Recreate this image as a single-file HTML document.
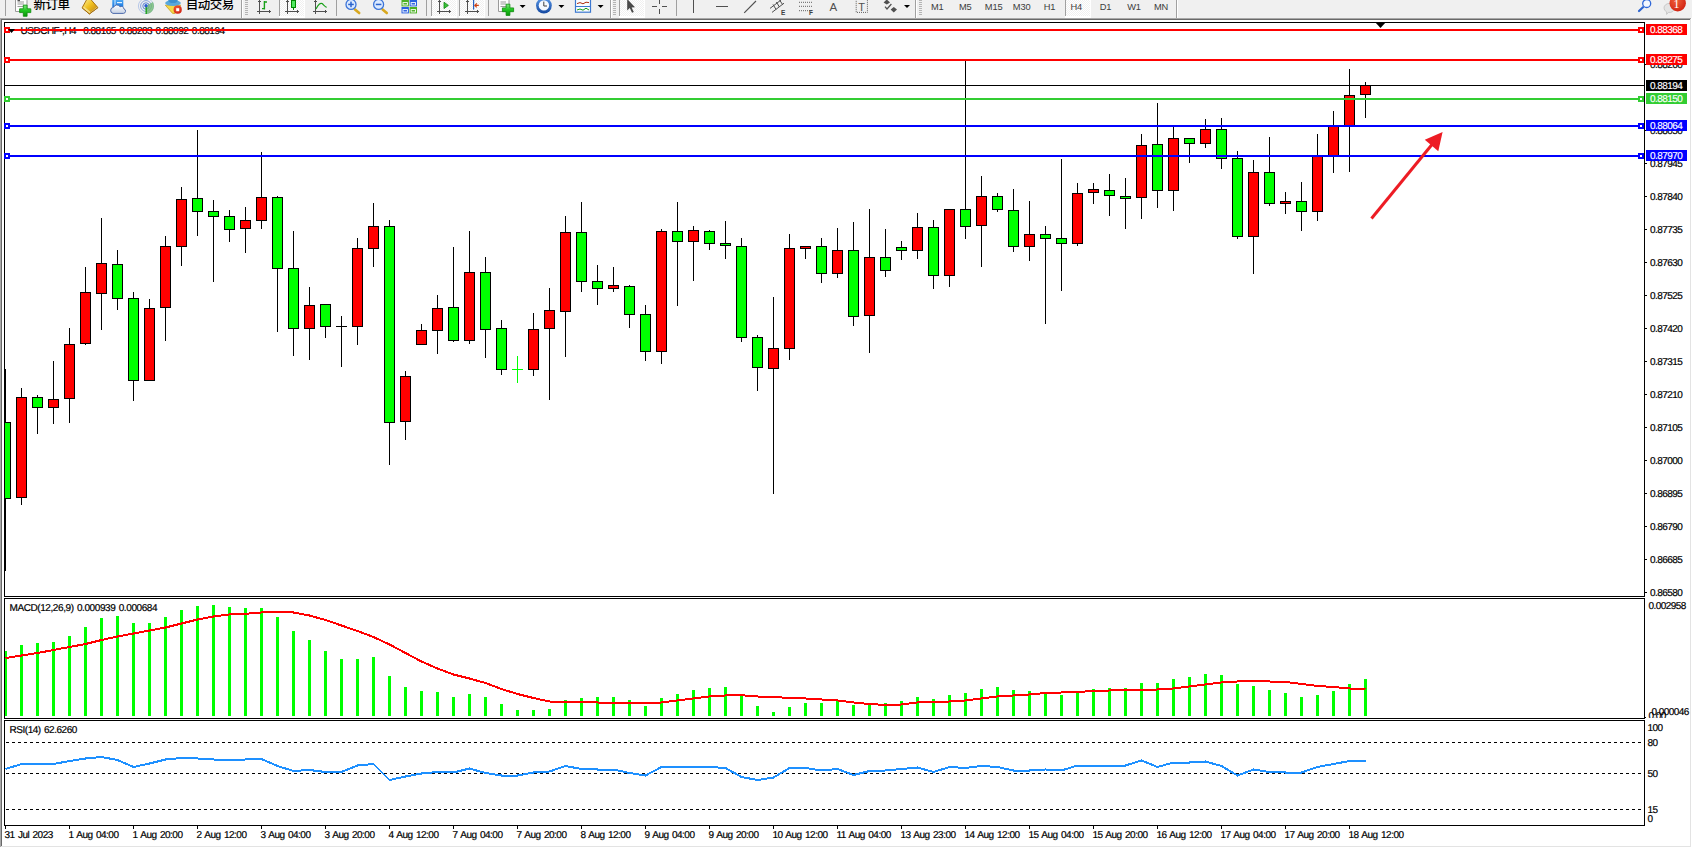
<!DOCTYPE html>
<html><head><meta charset="utf-8"><title>USDCHF H4</title>
<style>
html,body{margin:0;padding:0;background:#fff}
body{width:1692px;height:848px;overflow:hidden;position:relative;font-family:"Liberation Sans","Noto Sans CJK SC",sans-serif}
#tb{position:absolute;left:0;top:0;width:1692px;height:18px;background:#f0f0f0;overflow:hidden}
</style></head><body>
<div id="tb"><svg width="1692" height="18" viewBox="0 0 1692 18" style="position:absolute;left:0;top:0">
<defs>
<linearGradient id="gGold" x1="0" y1="0" x2="1" y2="1"><stop offset="0" stop-color="#fff3a0"/><stop offset="0.45" stop-color="#f0c020"/><stop offset="1" stop-color="#b87810"/></linearGradient>
<linearGradient id="gGreen" x1="0" y1="0" x2="0" y2="1"><stop offset="0" stop-color="#7be87b"/><stop offset="0.5" stop-color="#1fc41f"/><stop offset="1" stop-color="#0a960a"/></linearGradient>
<linearGradient id="gBlue" x1="0" y1="0" x2="0" y2="1"><stop offset="0" stop-color="#5ab4f8"/><stop offset="1" stop-color="#1a78e0"/></linearGradient>
<linearGradient id="gCloud" x1="0" y1="0" x2="0" y2="1"><stop offset="0" stop-color="#ffffff"/><stop offset="1" stop-color="#c4d0e4"/></linearGradient>
<radialGradient id="gRed" cx="0.4" cy="0.35" r="0.7"><stop offset="0" stop-color="#f0603a"/><stop offset="1" stop-color="#d02010"/></radialGradient>
<linearGradient id="gBlue2" x1="0" y1="0" x2="0" y2="1"><stop offset="0" stop-color="#5a98e8"/><stop offset="1" stop-color="#1448a0"/></linearGradient>
<radialGradient id="gClock" cx="0.5" cy="0.4" r="0.6"><stop offset="0" stop-color="#ffffff"/><stop offset="0.62" stop-color="#e8f0fa"/><stop offset="0.7" stop-color="#3a80d8"/><stop offset="1" stop-color="#1450a8"/></radialGradient>
<pattern id="sel" width="2" height="2" patternUnits="userSpaceOnUse"><rect width="2" height="2" fill="#ffffff"/><rect width="1" height="1" fill="#f0f0f0"/><rect x="1" y="1" width="1" height="1" fill="#f0f0f0"/></pattern>
</defs>
<rect x="5" y="0" width="1" height="16" fill="#a0a0a0" shape-rendering="crispEdges"/>
<path d="M15.5,-2.5 h8.5 l3,3 v11 h-11.5 z" fill="#fdfdfd" stroke="#9a9a9a" stroke-width="1"/>
<rect x="17.5" y="1.5" width="6.5" height="1" fill="#9c9c9c"/>
<rect x="17.5" y="3.5" width="6.5" height="1" fill="#9c9c9c"/>
<rect x="17.5" y="6" width="6.5" height="1" fill="#9c9c9c"/>
<rect x="17.5" y="0" width="2.5" height="1.2" fill="#555"/>
<path d="M23.3,5.1 h3.8 v3.7 h3.7 v3.8 h-3.7 v3.7 h-3.8 v-3.7 h-3.7 v-3.8 h3.7 z" fill="url(#gGreen)" stroke="#0b8a0b" stroke-width="0.8"/>
<polygon points="87,-1 90.8,-0.6 97.9,7.6 89.4,13.9 82.1,7.8" fill="url(#gGold)" stroke="#a06808" stroke-width="0.9" stroke-linejoin="round"/>
<polygon points="82.6,8 84,6.6 91,12.2 89.4,13.4" fill="#f4dc80"/>
<polygon points="90.2,13.2 91.2,11.8 97,7 97.6,7.8" fill="#e0d098"/>
<polyline points="82.1,7.8 89.4,13.9 97.9,7.6" fill="none" stroke="#a06808" stroke-width="0.9"/>
<rect x="112.3" y="-2" width="11" height="9" fill="url(#gBlue)"/>
<rect x="114.5" y="-2" width="1" height="8" fill="#d8ecff"/><rect x="117" y="2" width="5" height="1.2" fill="#e8f4ff"/>
<path d="M113,13.4 A3.1,3.1 0 0 1 113.6,7.3 A3.5,3.5 0 0 1 120,6.8 A2.6,2.6 0 0 1 123.9,8.9 A2.3,2.3 0 0 1 123.4,13.4 Z" fill="url(#gCloud)" stroke="#4f6cac" stroke-width="1"/>
<circle cx="146" cy="6" r="7.6" fill="none" stroke="#b8c8e8" stroke-width="1"/>
<circle cx="146" cy="6" r="5.4" fill="none" stroke="#88a4dc" stroke-width="1"/>
<circle cx="146" cy="6" r="3.2" fill="none" stroke="#5c84d4" stroke-width="1"/>
<path d="M146,6 L146,14 A8,8 0 0 0 152.9,2 z" fill="#6cb86c" opacity="0.75"/>
<rect x="145.5" y="6" width="1.4" height="8" fill="#1fa01f"/>
<circle cx="146" cy="5.8" r="1.7" fill="#2a5cd0"/>
<path d="M165.3,5.2 L180.6,5.2 L175,13.4 L172.6,13.4 z" fill="#f4d848" stroke="#c8a020" stroke-width="0.8"/>
<ellipse cx="173" cy="3" rx="7.8" ry="3" fill="#58a8dc"/><ellipse cx="173" cy="0.2" rx="4.6" ry="2.8" fill="#3c90d0"/>
<circle cx="177.7" cy="9.7" r="4.1" fill="url(#gRed)"/><rect x="176.2" y="8.2" width="3" height="3" fill="#fff"/>
<rect x="241" y="0" width="1" height="18" fill="#a0a0a0" shape-rendering="crispEdges"/>
<rect x="242" y="0" width="1" height="18" fill="#ffffff" shape-rendering="crispEdges"/>
<rect x="245" y="0" width="3" height="1" fill="#b4b4b4" shape-rendering="crispEdges"/>
<rect x="245" y="2" width="3" height="1" fill="#b4b4b4" shape-rendering="crispEdges"/>
<rect x="245" y="4" width="3" height="1" fill="#b4b4b4" shape-rendering="crispEdges"/>
<rect x="245" y="6" width="3" height="1" fill="#b4b4b4" shape-rendering="crispEdges"/>
<rect x="245" y="8" width="3" height="1" fill="#b4b4b4" shape-rendering="crispEdges"/>
<rect x="245" y="10" width="3" height="1" fill="#b4b4b4" shape-rendering="crispEdges"/>
<rect x="245" y="12" width="3" height="1" fill="#b4b4b4" shape-rendering="crispEdges"/>
<rect x="245" y="14" width="3" height="1" fill="#b4b4b4" shape-rendering="crispEdges"/>
<g fill="#505050" shape-rendering="crispEdges"><rect x="259" y="0" width="1" height="14"/><rect x="258" y="1" width="3" height="1"/><rect x="257" y="11" width="14" height="1"/><rect x="269" y="10" width="1" height="3"/></g>
<path d="M264.4,1 V9.6 M264.4,2 h2.6 M264.4,8.6 h-2.4" stroke="#18a018" stroke-width="1.4" fill="none"/>
<g shape-rendering="crispEdges"><rect x="280" y="0" width="24" height="16" fill="url(#sel)"/>
<rect x="279" y="0" width="1" height="16" fill="#a0a0a0"/>
<rect x="304" y="0" width="1" height="18" fill="#ffffff"/>
<rect x="279" y="16" width="26" height="2" fill="#ffffff"/></g>
<g fill="#505050" shape-rendering="crispEdges"><rect x="287" y="0" width="1" height="14"/><rect x="286" y="1" width="3" height="1"/><rect x="285" y="11" width="14" height="1"/><rect x="297" y="10" width="1" height="3"/></g>
<g shape-rendering="crispEdges"><rect x="293" y="0" width="1" height="10" fill="#008800"/><rect x="291" y="0" width="5" height="8" fill="#008800"/><rect x="292" y="1" width="3" height="6" fill="#50e860"/></g>
<g fill="#505050" shape-rendering="crispEdges"><rect x="315" y="0" width="1" height="14"/><rect x="314" y="1" width="3" height="1"/><rect x="313" y="11" width="14" height="1"/><rect x="325" y="10" width="1" height="3"/></g>
<path d="M316,9 C318.6,4 320.6,2.6 322,3.6 S325,6.8 326.6,7.4" stroke="#18a018" stroke-width="1.2" fill="none"/>
<rect x="336" y="0" width="1" height="16" fill="#a0a0a0" shape-rendering="crispEdges"/>
<line x1="355" y1="9.4" x2="359.2" y2="13" stroke="#d8a820" stroke-width="2.6" stroke-linecap="round"/>
<circle cx="351" cy="4.4" r="5" fill="#dceaff" stroke="#3c74d8" stroke-width="1.3"/>
<rect x="348.2" y="3.7" width="5.6" height="1.5" fill="#2c64cc"/>
<rect x="350.25" y="1.6" width="1.5" height="5.6" fill="#2c64cc"/>
<line x1="382.6" y1="9.4" x2="386.8" y2="13" stroke="#d8a820" stroke-width="2.6" stroke-linecap="round"/>
<circle cx="378.6" cy="4.4" r="5" fill="#dceaff" stroke="#3c74d8" stroke-width="1.3"/>
<rect x="375.8" y="3.7" width="5.6" height="1.5" fill="#2c64cc"/>
<rect x="401.5" y="0" width="7.4" height="6.4" fill="#4cb024"/>
<rect x="403" y="2.6" width="4.4" height="2.4" fill="none" stroke="#fff" stroke-width="0.9"/>
<rect x="409.6" y="0" width="7.4" height="6.4" fill="#2860e0"/>
<rect x="411.1" y="2.6" width="4.4" height="2.4" fill="none" stroke="#fff" stroke-width="0.9"/>
<rect x="401.5" y="7" width="7.4" height="6.4" fill="#2860e0"/>
<rect x="403" y="9.6" width="4.4" height="2.4" fill="none" stroke="#fff" stroke-width="0.9"/>
<rect x="409.6" y="7" width="7.4" height="6.4" fill="#4cb024"/>
<rect x="411.1" y="9.6" width="4.4" height="2.4" fill="none" stroke="#fff" stroke-width="0.9"/>
<rect x="426" y="0" width="1" height="16" fill="#a0a0a0" shape-rendering="crispEdges"/>
<g shape-rendering="crispEdges"><rect x="432" y="0" width="24" height="16" fill="url(#sel)"/>
<rect x="431" y="0" width="1" height="16" fill="#a0a0a0"/>
<rect x="456" y="0" width="1" height="18" fill="#ffffff"/>
<rect x="431" y="16" width="26" height="2" fill="#ffffff"/></g>
<g fill="#505050" shape-rendering="crispEdges"><rect x="439" y="0" width="1" height="14"/><rect x="438" y="1" width="3" height="1"/><rect x="437" y="11" width="14" height="1"/><rect x="449" y="10" width="1" height="3"/></g>
<polygon points="444,2.2 448.4,5.4 444,8.6" fill="#38c038" stroke="#108810" stroke-width="0.8"/>
<g shape-rendering="crispEdges"><rect x="460" y="0" width="24" height="16" fill="url(#sel)"/>
<rect x="459" y="0" width="1" height="16" fill="#a0a0a0"/>
<rect x="484" y="0" width="1" height="18" fill="#ffffff"/>
<rect x="459" y="16" width="26" height="2" fill="#ffffff"/></g>
<g fill="#505050" shape-rendering="crispEdges"><rect x="467" y="0" width="1" height="14"/><rect x="466" y="1" width="3" height="1"/><rect x="465" y="11" width="14" height="1"/><rect x="477" y="10" width="1" height="3"/></g>
<rect x="473" y="0" width="1.2" height="9.6" fill="#2860c0"/><path d="M478.8,5.4 H475 M476.8,3.4 L474.8,5.4 L476.8,7.4" stroke="#d04010" stroke-width="1.1" fill="none"/>
<rect x="488" y="0" width="1" height="16" fill="#a0a0a0" shape-rendering="crispEdges"/>
<path d="M498.5,-2.5 h7.5 l3,3 v11 h-10.5 z" fill="#fdfdfd" stroke="#9a9a9a" stroke-width="1"/>
<rect x="500.5" y="1.5" width="5.5" height="1" fill="#9c9c9c"/>
<rect x="500.5" y="3.5" width="5.5" height="1" fill="#9c9c9c"/>
<rect x="500.5" y="6" width="5.5" height="1" fill="#9c9c9c"/>
<path d="M506.1,4.2 h3.8 v3.7 h3.7 v3.8 h-3.7 v3.7 h-3.8 v-3.7 h-3.7 v-3.8 h3.7 z" fill="url(#gGreen)" stroke="#0b8a0b" stroke-width="0.8"/>
<polygon points="519.6,5 525.6,5 522.6,8" fill="#000"/>
<circle cx="543.9" cy="5.6" r="7.9" fill="url(#gBlue2)"/><circle cx="543.9" cy="5.4" r="5.2" fill="#f4f8ff"/>
<path d="M543.8,1.6 V6 H547" stroke="#404040" stroke-width="1" fill="none"/>
<polygon points="558.4,5 564.4,5 561.4,8" fill="#000"/>
<rect x="575.5" y="-2" width="15" height="14.2" fill="#fafcff" stroke="#3c78d0" stroke-width="1.2"/>
<rect x="575.5" y="6" width="15" height="1" fill="#3c78d0"/>
<polyline points="577,3.6 580,2.6 583,3.8 586,2.2 589,2.6" stroke="#b03010" stroke-width="1" fill="none"/>
<polyline points="577,10 580,9 583,10.2 586,8.2 589,10" stroke="#18a018" stroke-width="1" fill="none"/>
<polygon points="597.6,5 603.6,5 600.6,8" fill="#000"/>
<rect x="609.5" y="0" width="1" height="18" fill="#a0a0a0" shape-rendering="crispEdges"/>
<rect x="610.5" y="0" width="1" height="18" fill="#ffffff" shape-rendering="crispEdges"/>
<rect x="613" y="0" width="3" height="1" fill="#b4b4b4" shape-rendering="crispEdges"/>
<rect x="613" y="2" width="3" height="1" fill="#b4b4b4" shape-rendering="crispEdges"/>
<rect x="613" y="4" width="3" height="1" fill="#b4b4b4" shape-rendering="crispEdges"/>
<rect x="613" y="6" width="3" height="1" fill="#b4b4b4" shape-rendering="crispEdges"/>
<rect x="613" y="8" width="3" height="1" fill="#b4b4b4" shape-rendering="crispEdges"/>
<rect x="613" y="10" width="3" height="1" fill="#b4b4b4" shape-rendering="crispEdges"/>
<rect x="613" y="12" width="3" height="1" fill="#b4b4b4" shape-rendering="crispEdges"/>
<rect x="613" y="14" width="3" height="1" fill="#b4b4b4" shape-rendering="crispEdges"/>
<g shape-rendering="crispEdges"><rect x="620" y="0" width="24" height="16" fill="url(#sel)"/>
<rect x="619" y="0" width="1" height="16" fill="#a0a0a0"/>
<rect x="644" y="0" width="1" height="18" fill="#ffffff"/>
<rect x="619" y="16" width="26" height="2" fill="#ffffff"/></g>
<polygon points="627.2,-1 627.2,10.4 629.8,8 632,12.8 633.8,12 631.6,7.4 635,7.2" fill="#4a4a4a"/>
<path d="M659.5,0 V4 M659.5,9 V14 M652,6.5 H657 M662,6.5 H667" stroke="#505050" stroke-width="1" fill="none" shape-rendering="crispEdges"/>
<rect x="676" y="0" width="1" height="16" fill="#a0a0a0" shape-rendering="crispEdges"/>
<rect x="693" y="0" width="1" height="13" fill="#505050" shape-rendering="crispEdges"/>
<rect x="716" y="6" width="12" height="1" fill="#505050" shape-rendering="crispEdges"/>
<line x1="744.2" y1="12.9" x2="756" y2="1" stroke="#505050" stroke-width="1.1"/>
<g stroke="#505050" stroke-width="1" fill="none"><path d="M770,8.4 L781,0 M772,12.4 L784,3.2 M773,4.4 l3,5 M776.4,2 l3,5 M779.6,0 l3,4.6"/></g>
<text x="781" y="15" font-family="Liberation Sans, sans-serif" font-size="6.5" font-weight="bold" fill="#404040">E</text>
<line x1="799" y1="2.3" x2="812" y2="2.3" stroke="#606060" stroke-width="1" stroke-dasharray="1 1"/>
<line x1="799" y1="6.3" x2="812" y2="6.3" stroke="#606060" stroke-width="1" stroke-dasharray="1 1"/>
<line x1="799" y1="10.7" x2="812" y2="10.7" stroke="#606060" stroke-width="1" stroke-dasharray="1 1"/>
<text x="809" y="15" font-family="Liberation Sans, sans-serif" font-size="6.5" font-weight="bold" fill="#404040">F</text>
<text x="829.4" y="11" font-family="Liberation Sans, sans-serif" font-size="11.5" fill="#505050">A</text>
<rect x="856.2" y="-1" width="11.2" height="13.4" fill="none" stroke="#606060" stroke-width="1" stroke-dasharray="1 1"/>
<text x="858.2" y="10.6" font-family="Liberation Sans, sans-serif" font-size="11" fill="#505050">T</text>
<polygon points="883.6,2.6 886.8,-0.6 890,2.6 886.8,4.6" fill="#505050"/><polygon points="890.6,9.6 893.8,7 897,9.6 893.8,12.6" fill="#505050"/><path d="M885,6.6 l2,2.4 l4.4,-5" stroke="#505050" stroke-width="1.2" fill="none"/>
<polygon points="904,5 910,5 907,8" fill="#000"/>
<rect x="915" y="0" width="1" height="18" fill="#a0a0a0" shape-rendering="crispEdges"/>
<rect x="916" y="0" width="1" height="18" fill="#ffffff" shape-rendering="crispEdges"/>
<rect x="919" y="0" width="3" height="1" fill="#b4b4b4" shape-rendering="crispEdges"/>
<rect x="919" y="2" width="3" height="1" fill="#b4b4b4" shape-rendering="crispEdges"/>
<rect x="919" y="4" width="3" height="1" fill="#b4b4b4" shape-rendering="crispEdges"/>
<rect x="919" y="6" width="3" height="1" fill="#b4b4b4" shape-rendering="crispEdges"/>
<rect x="919" y="8" width="3" height="1" fill="#b4b4b4" shape-rendering="crispEdges"/>
<rect x="919" y="10" width="3" height="1" fill="#b4b4b4" shape-rendering="crispEdges"/>
<rect x="919" y="12" width="3" height="1" fill="#b4b4b4" shape-rendering="crispEdges"/>
<rect x="919" y="14" width="3" height="1" fill="#b4b4b4" shape-rendering="crispEdges"/>
<g shape-rendering="crispEdges"><rect x="1066" y="0" width="24" height="16" fill="url(#sel)"/>
<rect x="1065" y="0" width="1" height="16" fill="#a0a0a0"/>
<rect x="1090" y="0" width="1" height="18" fill="#ffffff"/>
<rect x="1065" y="16" width="26" height="2" fill="#ffffff"/></g>
<text x="931" y="9.8" font-family="Liberation Sans, sans-serif" font-size="9.3" letter-spacing="-0.15" fill="#3c3c3c">M1</text>
<text x="959" y="9.8" font-family="Liberation Sans, sans-serif" font-size="9.3" letter-spacing="-0.15" fill="#3c3c3c">M5</text>
<text x="984.8" y="9.8" font-family="Liberation Sans, sans-serif" font-size="9.3" letter-spacing="-0.15" fill="#3c3c3c">M15</text>
<text x="1012.8" y="9.8" font-family="Liberation Sans, sans-serif" font-size="9.3" letter-spacing="-0.15" fill="#3c3c3c">M30</text>
<text x="1043.7" y="9.8" font-family="Liberation Sans, sans-serif" font-size="9.3" letter-spacing="-0.15" fill="#3c3c3c">H1</text>
<text x="1070.5" y="9.8" font-family="Liberation Sans, sans-serif" font-size="9.3" letter-spacing="-0.15" fill="#3c3c3c">H4</text>
<text x="1099.7" y="9.8" font-family="Liberation Sans, sans-serif" font-size="9.3" letter-spacing="-0.15" fill="#3c3c3c">D1</text>
<text x="1127.2" y="9.8" font-family="Liberation Sans, sans-serif" font-size="9.3" letter-spacing="-0.15" fill="#3c3c3c">W1</text>
<text x="1154" y="9.8" font-family="Liberation Sans, sans-serif" font-size="9.3" letter-spacing="-0.15" fill="#3c3c3c">MN</text>
<rect x="1176" y="0" width="1" height="18" fill="#a0a0a0" shape-rendering="crispEdges"/>
<rect x="1177" y="0" width="1" height="18" fill="#ffffff" shape-rendering="crispEdges"/>
<line x1="1643" y1="7.2" x2="1639" y2="11" stroke="#2c64d0" stroke-width="2.2" stroke-linecap="round"/><circle cx="1646.7" cy="3.5" r="4" fill="#f4f8ff" stroke="#3068d8" stroke-width="1.3"/>
<path d="M1664,8 a5.4,4.6 0 0 1 10.8,0 a5.4,4.6 0 0 1 -6.4,4.4 l-1.8,2 l0,-2.6 a5,4.4 0 0 1 -2.6,-3.8 z" fill="#e4e4e4" stroke="#c0c0c0" stroke-width="0.8"/>
<circle cx="1677.7" cy="3.3" r="8.2" fill="url(#gRed)"/>
<text x="1673.6" y="8" font-family="Liberation Serif, serif" font-size="12" fill="#fff">1</text>
</svg>
<div style="position:absolute;left:33.4px;top:-3.6px;font-size:12.5px;font-weight:500;line-height:18px;color:#000;white-space:nowrap;letter-spacing:-0.5px">新订单</div>
<div style="position:absolute;left:185.8px;top:-3.6px;font-size:12.5px;font-weight:500;line-height:18px;color:#000;white-space:nowrap;letter-spacing:-0.5px">自动交易</div></div>
<svg id="chart" width="1692" height="848" viewBox="0 0 1692 848" style="position:absolute;left:0;top:0" shape-rendering="crispEdges">
<defs><clipPath id="cm"><rect x="5" y="23" width="1639" height="573"/></clipPath><clipPath id="cl"><rect x="5" y="599" width="1639" height="226"/></clipPath><clipPath id="cz"><rect x="1645" y="700" width="47" height="18"/></clipPath></defs>
<rect x="0" y="18" width="1692" height="1" fill="#a8a8a8"/>
<rect x="1" y="19" width="1690" height="1" fill="#696969"/>
<rect x="0" y="18" width="1" height="829" fill="#a8a8a8"/>
<rect x="1" y="19" width="1" height="827" fill="#696969"/>
<rect x="1690" y="19" width="1" height="828" fill="#e3e3e3"/>
<rect x="1" y="846" width="1690" height="1" fill="#e3e3e3"/>
<rect x="1691" y="18" width="1" height="830" fill="#ffffff"/>
<rect x="0" y="847" width="1692" height="1" fill="#ffffff"/>
<rect x="4" y="22" width="1641" height="1" fill="#000"/>
<rect x="4" y="596" width="1641" height="1" fill="#000"/>
<rect x="4" y="22" width="1" height="575" fill="#000"/>
<rect x="1644" y="22" width="1" height="575" fill="#000"/>
<rect x="4" y="598" width="1641" height="1" fill="#000"/>
<rect x="4" y="718" width="1641" height="1" fill="#000"/>
<rect x="4" y="598" width="1" height="121" fill="#000"/>
<rect x="1644" y="598" width="1" height="121" fill="#000"/>
<rect x="4" y="720" width="1641" height="1" fill="#000"/>
<rect x="4" y="825" width="1641" height="1" fill="#000"/>
<rect x="4" y="720" width="1" height="106" fill="#000"/>
<rect x="1644" y="720" width="1" height="106" fill="#000"/>
<text x="20.5" y="34" font-family="Liberation Sans, sans-serif" text-rendering="geometricPrecision" stroke="#000" stroke-width="0.2" font-size="10" letter-spacing="-0.56" fill="#000" textLength="204" lengthAdjust="spacing" word-spacing="1.2" xml:space="preserve">USDCHF-,H4  0.88165 0.88203 0.88092 0.88194</text>
<g clip-path="url(#cm)">
<rect x="5" y="369" width="1" height="202" fill="#000"/>
<rect x="0" y="422" width="11" height="77" fill="#000"/>
<rect x="1" y="423" width="9" height="75" fill="#00ff00"/>
<rect x="21" y="388" width="1" height="117" fill="#000"/>
<rect x="16" y="397" width="11" height="101" fill="#000"/>
<rect x="17" y="398" width="9" height="99" fill="#ff0000"/>
<rect x="37" y="395" width="1" height="39" fill="#000"/>
<rect x="32" y="397" width="11" height="11" fill="#000"/>
<rect x="33" y="398" width="9" height="9" fill="#00ff00"/>
<rect x="53" y="361" width="1" height="63" fill="#000"/>
<rect x="48" y="399" width="11" height="9" fill="#000"/>
<rect x="49" y="400" width="9" height="7" fill="#ff0000"/>
<rect x="69" y="328" width="1" height="95" fill="#000"/>
<rect x="64" y="344" width="11" height="55" fill="#000"/>
<rect x="65" y="345" width="9" height="53" fill="#ff0000"/>
<rect x="85" y="267" width="1" height="78" fill="#000"/>
<rect x="80" y="292" width="11" height="52" fill="#000"/>
<rect x="81" y="293" width="9" height="50" fill="#ff0000"/>
<rect x="101" y="218" width="1" height="112" fill="#000"/>
<rect x="96" y="263" width="11" height="31" fill="#000"/>
<rect x="97" y="264" width="9" height="29" fill="#ff0000"/>
<rect x="117" y="250" width="1" height="60" fill="#000"/>
<rect x="112" y="264" width="11" height="35" fill="#000"/>
<rect x="113" y="265" width="9" height="33" fill="#00ff00"/>
<rect x="133" y="292" width="1" height="109" fill="#000"/>
<rect x="128" y="298" width="11" height="83" fill="#000"/>
<rect x="129" y="299" width="9" height="81" fill="#00ff00"/>
<rect x="149" y="299" width="1" height="82" fill="#000"/>
<rect x="144" y="308" width="11" height="73" fill="#000"/>
<rect x="145" y="309" width="9" height="71" fill="#ff0000"/>
<rect x="165" y="236" width="1" height="105" fill="#000"/>
<rect x="160" y="246" width="11" height="62" fill="#000"/>
<rect x="161" y="247" width="9" height="60" fill="#ff0000"/>
<rect x="181" y="187" width="1" height="79" fill="#000"/>
<rect x="176" y="199" width="11" height="48" fill="#000"/>
<rect x="177" y="200" width="9" height="46" fill="#ff0000"/>
<rect x="197" y="130" width="1" height="106" fill="#000"/>
<rect x="192" y="198" width="11" height="14" fill="#000"/>
<rect x="193" y="199" width="9" height="12" fill="#00ff00"/>
<rect x="213" y="200" width="1" height="82" fill="#000"/>
<rect x="208" y="211" width="11" height="6" fill="#000"/>
<rect x="209" y="212" width="9" height="4" fill="#00ff00"/>
<rect x="229" y="210" width="1" height="32" fill="#000"/>
<rect x="224" y="216" width="11" height="14" fill="#000"/>
<rect x="225" y="217" width="9" height="12" fill="#00ff00"/>
<rect x="245" y="207" width="1" height="46" fill="#000"/>
<rect x="240" y="220" width="11" height="9" fill="#000"/>
<rect x="241" y="221" width="9" height="7" fill="#ff0000"/>
<rect x="261" y="152" width="1" height="77" fill="#000"/>
<rect x="256" y="197" width="11" height="24" fill="#000"/>
<rect x="257" y="198" width="9" height="22" fill="#ff0000"/>
<rect x="277" y="196" width="1" height="136" fill="#000"/>
<rect x="272" y="197" width="11" height="72" fill="#000"/>
<rect x="273" y="198" width="9" height="70" fill="#00ff00"/>
<rect x="293" y="231" width="1" height="125" fill="#000"/>
<rect x="288" y="268" width="11" height="61" fill="#000"/>
<rect x="289" y="269" width="9" height="59" fill="#00ff00"/>
<rect x="309" y="287" width="1" height="73" fill="#000"/>
<rect x="304" y="305" width="11" height="24" fill="#000"/>
<rect x="305" y="306" width="9" height="22" fill="#ff0000"/>
<rect x="325" y="304" width="1" height="34" fill="#000"/>
<rect x="320" y="304" width="11" height="23" fill="#000"/>
<rect x="321" y="305" width="9" height="21" fill="#00ff00"/>
<rect x="341" y="316" width="1" height="51" fill="#000"/>
<rect x="336" y="326" width="11" height="1" fill="#000"/>
<rect x="357" y="238" width="1" height="107" fill="#000"/>
<rect x="352" y="248" width="11" height="79" fill="#000"/>
<rect x="353" y="249" width="9" height="77" fill="#ff0000"/>
<rect x="373" y="203" width="1" height="64" fill="#000"/>
<rect x="368" y="226" width="11" height="23" fill="#000"/>
<rect x="369" y="227" width="9" height="21" fill="#ff0000"/>
<rect x="389" y="220" width="1" height="245" fill="#000"/>
<rect x="384" y="226" width="11" height="197" fill="#000"/>
<rect x="385" y="227" width="9" height="195" fill="#00ff00"/>
<rect x="405" y="371" width="1" height="69" fill="#000"/>
<rect x="400" y="376" width="11" height="46" fill="#000"/>
<rect x="401" y="377" width="9" height="44" fill="#ff0000"/>
<rect x="421" y="324" width="1" height="21" fill="#000"/>
<rect x="416" y="330" width="11" height="15" fill="#000"/>
<rect x="417" y="331" width="9" height="13" fill="#ff0000"/>
<rect x="437" y="295" width="1" height="59" fill="#000"/>
<rect x="432" y="308" width="11" height="23" fill="#000"/>
<rect x="433" y="309" width="9" height="21" fill="#ff0000"/>
<rect x="453" y="247" width="1" height="95" fill="#000"/>
<rect x="448" y="307" width="11" height="34" fill="#000"/>
<rect x="449" y="308" width="9" height="32" fill="#00ff00"/>
<rect x="469" y="231" width="1" height="113" fill="#000"/>
<rect x="464" y="272" width="11" height="69" fill="#000"/>
<rect x="465" y="273" width="9" height="67" fill="#ff0000"/>
<rect x="485" y="257" width="1" height="101" fill="#000"/>
<rect x="480" y="272" width="11" height="58" fill="#000"/>
<rect x="481" y="273" width="9" height="56" fill="#00ff00"/>
<rect x="501" y="320" width="1" height="55" fill="#000"/>
<rect x="496" y="328" width="11" height="42" fill="#000"/>
<rect x="497" y="329" width="9" height="40" fill="#00ff00"/>
<rect x="517" y="356" width="1" height="27" fill="#00ff00"/>
<rect x="512" y="369" width="11" height="1" fill="#00ff00"/>
<rect x="533" y="313" width="1" height="63" fill="#000"/>
<rect x="528" y="329" width="11" height="41" fill="#000"/>
<rect x="529" y="330" width="9" height="39" fill="#ff0000"/>
<rect x="549" y="288" width="1" height="112" fill="#000"/>
<rect x="544" y="310" width="11" height="19" fill="#000"/>
<rect x="545" y="311" width="9" height="17" fill="#ff0000"/>
<rect x="565" y="216" width="1" height="141" fill="#000"/>
<rect x="560" y="232" width="11" height="80" fill="#000"/>
<rect x="561" y="233" width="9" height="78" fill="#ff0000"/>
<rect x="581" y="202" width="1" height="90" fill="#000"/>
<rect x="576" y="232" width="11" height="50" fill="#000"/>
<rect x="577" y="233" width="9" height="48" fill="#00ff00"/>
<rect x="597" y="265" width="1" height="40" fill="#000"/>
<rect x="592" y="281" width="11" height="8" fill="#000"/>
<rect x="593" y="282" width="9" height="6" fill="#00ff00"/>
<rect x="613" y="267" width="1" height="25" fill="#000"/>
<rect x="608" y="285" width="11" height="4" fill="#000"/>
<rect x="609" y="286" width="9" height="2" fill="#ff0000"/>
<rect x="629" y="285" width="1" height="43" fill="#000"/>
<rect x="624" y="286" width="11" height="29" fill="#000"/>
<rect x="625" y="287" width="9" height="27" fill="#00ff00"/>
<rect x="645" y="305" width="1" height="56" fill="#000"/>
<rect x="640" y="314" width="11" height="38" fill="#000"/>
<rect x="641" y="315" width="9" height="36" fill="#00ff00"/>
<rect x="661" y="229" width="1" height="135" fill="#000"/>
<rect x="656" y="231" width="11" height="121" fill="#000"/>
<rect x="657" y="232" width="9" height="119" fill="#ff0000"/>
<rect x="677" y="202" width="1" height="104" fill="#000"/>
<rect x="672" y="231" width="11" height="11" fill="#000"/>
<rect x="673" y="232" width="9" height="9" fill="#00ff00"/>
<rect x="693" y="226" width="1" height="55" fill="#000"/>
<rect x="688" y="230" width="11" height="12" fill="#000"/>
<rect x="689" y="231" width="9" height="10" fill="#ff0000"/>
<rect x="709" y="230" width="1" height="20" fill="#000"/>
<rect x="704" y="231" width="11" height="13" fill="#000"/>
<rect x="705" y="232" width="9" height="11" fill="#00ff00"/>
<rect x="725" y="221" width="1" height="38" fill="#000"/>
<rect x="720" y="243" width="11" height="3" fill="#000"/>
<rect x="721" y="244" width="9" height="1" fill="#00ff00"/>
<rect x="741" y="238" width="1" height="104" fill="#000"/>
<rect x="736" y="246" width="11" height="92" fill="#000"/>
<rect x="737" y="247" width="9" height="90" fill="#00ff00"/>
<rect x="757" y="335" width="1" height="56" fill="#000"/>
<rect x="752" y="337" width="11" height="31" fill="#000"/>
<rect x="753" y="338" width="9" height="29" fill="#00ff00"/>
<rect x="773" y="297" width="1" height="197" fill="#000"/>
<rect x="768" y="348" width="11" height="21" fill="#000"/>
<rect x="769" y="349" width="9" height="19" fill="#ff0000"/>
<rect x="789" y="234" width="1" height="126" fill="#000"/>
<rect x="784" y="248" width="11" height="101" fill="#000"/>
<rect x="785" y="249" width="9" height="99" fill="#ff0000"/>
<rect x="805" y="246" width="1" height="13" fill="#000"/>
<rect x="800" y="246" width="11" height="3" fill="#000"/>
<rect x="801" y="247" width="9" height="1" fill="#ff0000"/>
<rect x="821" y="238" width="1" height="45" fill="#000"/>
<rect x="816" y="246" width="11" height="28" fill="#000"/>
<rect x="817" y="247" width="9" height="26" fill="#00ff00"/>
<rect x="837" y="228" width="1" height="50" fill="#000"/>
<rect x="832" y="250" width="11" height="24" fill="#000"/>
<rect x="833" y="251" width="9" height="22" fill="#ff0000"/>
<rect x="853" y="222" width="1" height="104" fill="#000"/>
<rect x="848" y="250" width="11" height="67" fill="#000"/>
<rect x="849" y="251" width="9" height="65" fill="#00ff00"/>
<rect x="869" y="209" width="1" height="144" fill="#000"/>
<rect x="864" y="257" width="11" height="59" fill="#000"/>
<rect x="865" y="258" width="9" height="57" fill="#ff0000"/>
<rect x="885" y="229" width="1" height="48" fill="#000"/>
<rect x="880" y="257" width="11" height="14" fill="#000"/>
<rect x="881" y="258" width="9" height="12" fill="#00ff00"/>
<rect x="901" y="241" width="1" height="19" fill="#000"/>
<rect x="896" y="247" width="11" height="4" fill="#000"/>
<rect x="897" y="248" width="9" height="2" fill="#00ff00"/>
<rect x="917" y="213" width="1" height="46" fill="#000"/>
<rect x="912" y="227" width="11" height="24" fill="#000"/>
<rect x="913" y="228" width="9" height="22" fill="#ff0000"/>
<rect x="933" y="220" width="1" height="69" fill="#000"/>
<rect x="928" y="227" width="11" height="49" fill="#000"/>
<rect x="929" y="228" width="9" height="47" fill="#00ff00"/>
<rect x="949" y="209" width="1" height="78" fill="#000"/>
<rect x="944" y="209" width="11" height="67" fill="#000"/>
<rect x="945" y="210" width="9" height="65" fill="#ff0000"/>
<rect x="965" y="61" width="1" height="178" fill="#000"/>
<rect x="960" y="209" width="11" height="18" fill="#000"/>
<rect x="961" y="210" width="9" height="16" fill="#00ff00"/>
<rect x="981" y="176" width="1" height="91" fill="#000"/>
<rect x="976" y="196" width="11" height="30" fill="#000"/>
<rect x="977" y="197" width="9" height="28" fill="#ff0000"/>
<rect x="997" y="193" width="1" height="19" fill="#000"/>
<rect x="992" y="196" width="11" height="14" fill="#000"/>
<rect x="993" y="197" width="9" height="12" fill="#00ff00"/>
<rect x="1013" y="189" width="1" height="63" fill="#000"/>
<rect x="1008" y="210" width="11" height="37" fill="#000"/>
<rect x="1009" y="211" width="9" height="35" fill="#00ff00"/>
<rect x="1029" y="201" width="1" height="60" fill="#000"/>
<rect x="1024" y="234" width="11" height="13" fill="#000"/>
<rect x="1025" y="235" width="9" height="11" fill="#ff0000"/>
<rect x="1045" y="226" width="1" height="98" fill="#000"/>
<rect x="1040" y="234" width="11" height="5" fill="#000"/>
<rect x="1041" y="235" width="9" height="3" fill="#00ff00"/>
<rect x="1061" y="159" width="1" height="132" fill="#000"/>
<rect x="1056" y="238" width="11" height="6" fill="#000"/>
<rect x="1057" y="239" width="9" height="4" fill="#00ff00"/>
<rect x="1077" y="183" width="1" height="63" fill="#000"/>
<rect x="1072" y="193" width="11" height="51" fill="#000"/>
<rect x="1073" y="194" width="9" height="49" fill="#ff0000"/>
<rect x="1093" y="183" width="1" height="21" fill="#000"/>
<rect x="1088" y="189" width="11" height="4" fill="#000"/>
<rect x="1089" y="190" width="9" height="2" fill="#ff0000"/>
<rect x="1109" y="174" width="1" height="42" fill="#000"/>
<rect x="1104" y="190" width="11" height="6" fill="#000"/>
<rect x="1105" y="191" width="9" height="4" fill="#00ff00"/>
<rect x="1125" y="178" width="1" height="51" fill="#000"/>
<rect x="1120" y="196" width="11" height="3" fill="#000"/>
<rect x="1121" y="197" width="9" height="1" fill="#00ff00"/>
<rect x="1141" y="134" width="1" height="85" fill="#000"/>
<rect x="1136" y="145" width="11" height="53" fill="#000"/>
<rect x="1137" y="146" width="9" height="51" fill="#ff0000"/>
<rect x="1157" y="103" width="1" height="105" fill="#000"/>
<rect x="1152" y="144" width="11" height="47" fill="#000"/>
<rect x="1153" y="145" width="9" height="45" fill="#00ff00"/>
<rect x="1173" y="127" width="1" height="84" fill="#000"/>
<rect x="1168" y="138" width="11" height="53" fill="#000"/>
<rect x="1169" y="139" width="9" height="51" fill="#ff0000"/>
<rect x="1189" y="138" width="1" height="25" fill="#000"/>
<rect x="1184" y="138" width="11" height="6" fill="#000"/>
<rect x="1185" y="139" width="9" height="4" fill="#00ff00"/>
<rect x="1205" y="119" width="1" height="29" fill="#000"/>
<rect x="1200" y="129" width="11" height="15" fill="#000"/>
<rect x="1201" y="130" width="9" height="13" fill="#ff0000"/>
<rect x="1221" y="118" width="1" height="51" fill="#000"/>
<rect x="1216" y="129" width="11" height="30" fill="#000"/>
<rect x="1217" y="130" width="9" height="28" fill="#00ff00"/>
<rect x="1237" y="151" width="1" height="88" fill="#000"/>
<rect x="1232" y="158" width="11" height="79" fill="#000"/>
<rect x="1233" y="159" width="9" height="77" fill="#00ff00"/>
<rect x="1253" y="160" width="1" height="114" fill="#000"/>
<rect x="1248" y="172" width="11" height="65" fill="#000"/>
<rect x="1249" y="173" width="9" height="63" fill="#ff0000"/>
<rect x="1269" y="137" width="1" height="69" fill="#000"/>
<rect x="1264" y="172" width="11" height="32" fill="#000"/>
<rect x="1265" y="173" width="9" height="30" fill="#00ff00"/>
<rect x="1285" y="192" width="1" height="22" fill="#000"/>
<rect x="1280" y="201" width="11" height="3" fill="#000"/>
<rect x="1281" y="202" width="9" height="1" fill="#ff0000"/>
<rect x="1301" y="182" width="1" height="49" fill="#000"/>
<rect x="1296" y="201" width="11" height="11" fill="#000"/>
<rect x="1297" y="202" width="9" height="9" fill="#00ff00"/>
<rect x="1317" y="134" width="1" height="87" fill="#000"/>
<rect x="1312" y="156" width="11" height="56" fill="#000"/>
<rect x="1313" y="157" width="9" height="54" fill="#ff0000"/>
<rect x="1333" y="111" width="1" height="62" fill="#000"/>
<rect x="1328" y="126" width="11" height="30" fill="#000"/>
<rect x="1329" y="127" width="9" height="28" fill="#ff0000"/>
<rect x="1349" y="69" width="1" height="103" fill="#000"/>
<rect x="1344" y="95" width="11" height="31" fill="#000"/>
<rect x="1345" y="96" width="9" height="29" fill="#ff0000"/>
<rect x="1365" y="82" width="1" height="36" fill="#000"/>
<rect x="1360" y="85" width="11" height="10" fill="#000"/>
<rect x="1361" y="86" width="9" height="8" fill="#ff0000"/>
</g>
<rect x="5" y="85" width="1639" height="1" fill="#000"/>
<rect x="5" y="29" width="1639" height="2" fill="#ff0000"/>
<rect x="5" y="59" width="1639" height="2" fill="#ff0000"/>
<rect x="5" y="98" width="1639" height="2" fill="#32cd32"/>
<rect x="5" y="125" width="1639" height="2" fill="#0000ff"/>
<rect x="5" y="155" width="1639" height="2" fill="#0000ff"/>
<rect x="4" y="27" width="6" height="6" fill="#ff0000"/>
<rect x="6" y="29" width="2" height="2" fill="#fff"/>
<rect x="1638" y="27" width="6" height="6" fill="#ff0000"/>
<rect x="1640" y="29" width="2" height="2" fill="#fff"/>
<rect x="4" y="57" width="6" height="6" fill="#ff0000"/>
<rect x="6" y="59" width="2" height="2" fill="#fff"/>
<rect x="1638" y="57" width="6" height="6" fill="#ff0000"/>
<rect x="1640" y="59" width="2" height="2" fill="#fff"/>
<rect x="4" y="96" width="6" height="6" fill="#32cd32"/>
<rect x="6" y="98" width="2" height="2" fill="#fff"/>
<rect x="1638" y="96" width="6" height="6" fill="#32cd32"/>
<rect x="1640" y="98" width="2" height="2" fill="#fff"/>
<rect x="4" y="123" width="6" height="6" fill="#0000ff"/>
<rect x="6" y="125" width="2" height="2" fill="#fff"/>
<rect x="1638" y="123" width="6" height="6" fill="#0000ff"/>
<rect x="1640" y="125" width="2" height="2" fill="#fff"/>
<rect x="4" y="153" width="6" height="6" fill="#0000ff"/>
<rect x="6" y="155" width="2" height="2" fill="#fff"/>
<rect x="1638" y="153" width="6" height="6" fill="#0000ff"/>
<rect x="1640" y="155" width="2" height="2" fill="#fff"/>
<polygon points="8,29 15,29 11.5,33" fill="#000" shape-rendering="auto"/>
<polygon points="1375,22 1386,22 1380.5,28" fill="#000" shape-rendering="auto"/>
<g shape-rendering="auto"><line x1="1371.5" y1="218.5" x2="1432" y2="144.5" stroke="#ed1c24" stroke-width="3"/><polygon points="1442.6,131.9 1424.8,139.7 1438.3,151.2" fill="#ed1c24"/></g>
<rect x="1645" y="64" width="2" height="1" fill="#000"/>
<text x="1650" y="68" font-family="Liberation Sans, sans-serif" text-rendering="geometricPrecision" stroke="#000" stroke-width="0.2" font-size="10" letter-spacing="-0.56" fill="#000">0.88260</text>
<rect x="1645" y="130" width="2" height="1" fill="#000"/>
<text x="1650" y="134" font-family="Liberation Sans, sans-serif" text-rendering="geometricPrecision" stroke="#000" stroke-width="0.2" font-size="10" letter-spacing="-0.56" fill="#000">0.88050</text>
<rect x="1645" y="163" width="2" height="1" fill="#000"/>
<text x="1650" y="167" font-family="Liberation Sans, sans-serif" text-rendering="geometricPrecision" stroke="#000" stroke-width="0.2" font-size="10" letter-spacing="-0.56" fill="#000">0.87945</text>
<rect x="1645" y="196" width="2" height="1" fill="#000"/>
<text x="1650" y="200" font-family="Liberation Sans, sans-serif" text-rendering="geometricPrecision" stroke="#000" stroke-width="0.2" font-size="10" letter-spacing="-0.56" fill="#000">0.87840</text>
<rect x="1645" y="229" width="2" height="1" fill="#000"/>
<text x="1650" y="233" font-family="Liberation Sans, sans-serif" text-rendering="geometricPrecision" stroke="#000" stroke-width="0.2" font-size="10" letter-spacing="-0.56" fill="#000">0.87735</text>
<rect x="1645" y="262" width="2" height="1" fill="#000"/>
<text x="1650" y="266" font-family="Liberation Sans, sans-serif" text-rendering="geometricPrecision" stroke="#000" stroke-width="0.2" font-size="10" letter-spacing="-0.56" fill="#000">0.87630</text>
<rect x="1645" y="295" width="2" height="1" fill="#000"/>
<text x="1650" y="299" font-family="Liberation Sans, sans-serif" text-rendering="geometricPrecision" stroke="#000" stroke-width="0.2" font-size="10" letter-spacing="-0.56" fill="#000">0.87525</text>
<rect x="1645" y="328" width="2" height="1" fill="#000"/>
<text x="1650" y="332" font-family="Liberation Sans, sans-serif" text-rendering="geometricPrecision" stroke="#000" stroke-width="0.2" font-size="10" letter-spacing="-0.56" fill="#000">0.87420</text>
<rect x="1645" y="361" width="2" height="1" fill="#000"/>
<text x="1650" y="365" font-family="Liberation Sans, sans-serif" text-rendering="geometricPrecision" stroke="#000" stroke-width="0.2" font-size="10" letter-spacing="-0.56" fill="#000">0.87315</text>
<rect x="1645" y="394" width="2" height="1" fill="#000"/>
<text x="1650" y="398" font-family="Liberation Sans, sans-serif" text-rendering="geometricPrecision" stroke="#000" stroke-width="0.2" font-size="10" letter-spacing="-0.56" fill="#000">0.87210</text>
<rect x="1645" y="427" width="2" height="1" fill="#000"/>
<text x="1650" y="431" font-family="Liberation Sans, sans-serif" text-rendering="geometricPrecision" stroke="#000" stroke-width="0.2" font-size="10" letter-spacing="-0.56" fill="#000">0.87105</text>
<rect x="1645" y="460" width="2" height="1" fill="#000"/>
<text x="1650" y="464" font-family="Liberation Sans, sans-serif" text-rendering="geometricPrecision" stroke="#000" stroke-width="0.2" font-size="10" letter-spacing="-0.56" fill="#000">0.87000</text>
<rect x="1645" y="493" width="2" height="1" fill="#000"/>
<text x="1650" y="497" font-family="Liberation Sans, sans-serif" text-rendering="geometricPrecision" stroke="#000" stroke-width="0.2" font-size="10" letter-spacing="-0.56" fill="#000">0.86895</text>
<rect x="1645" y="526" width="2" height="1" fill="#000"/>
<text x="1650" y="530" font-family="Liberation Sans, sans-serif" text-rendering="geometricPrecision" stroke="#000" stroke-width="0.2" font-size="10" letter-spacing="-0.56" fill="#000">0.86790</text>
<rect x="1645" y="559" width="2" height="1" fill="#000"/>
<text x="1650" y="563" font-family="Liberation Sans, sans-serif" text-rendering="geometricPrecision" stroke="#000" stroke-width="0.2" font-size="10" letter-spacing="-0.56" fill="#000">0.86685</text>
<rect x="1645" y="592" width="2" height="1" fill="#000"/>
<text x="1650" y="596" font-family="Liberation Sans, sans-serif" text-rendering="geometricPrecision" stroke="#000" stroke-width="0.2" font-size="10" letter-spacing="-0.56" fill="#000">0.86580</text>
<rect x="1646" y="24" width="41" height="11" fill="#ff0000"/>
<text x="1650" y="33" font-family="Liberation Sans, sans-serif" text-rendering="geometricPrecision" stroke="#fff" stroke-width="0.15" font-size="10" letter-spacing="-0.56" fill="#fff">0.88368</text>
<rect x="1646" y="54" width="41" height="11" fill="#ff0000"/>
<text x="1650" y="63" font-family="Liberation Sans, sans-serif" text-rendering="geometricPrecision" stroke="#fff" stroke-width="0.15" font-size="10" letter-spacing="-0.56" fill="#fff">0.88275</text>
<rect x="1646" y="80" width="41" height="11" fill="#000"/>
<text x="1650" y="89" font-family="Liberation Sans, sans-serif" text-rendering="geometricPrecision" stroke="#fff" stroke-width="0.15" font-size="10" letter-spacing="-0.56" fill="#fff">0.88194</text>
<rect x="1646" y="93" width="41" height="11" fill="#32cd32"/>
<text x="1650" y="102" font-family="Liberation Sans, sans-serif" text-rendering="geometricPrecision" stroke="#fff" stroke-width="0.15" font-size="10" letter-spacing="-0.56" fill="#fff">0.88150</text>
<rect x="1646" y="120" width="41" height="11" fill="#0000ff"/>
<text x="1650" y="129" font-family="Liberation Sans, sans-serif" text-rendering="geometricPrecision" stroke="#fff" stroke-width="0.15" font-size="10" letter-spacing="-0.56" fill="#fff">0.88064</text>
<rect x="1646" y="150" width="41" height="11" fill="#0000ff"/>
<text x="1650" y="159" font-family="Liberation Sans, sans-serif" text-rendering="geometricPrecision" stroke="#fff" stroke-width="0.15" font-size="10" letter-spacing="-0.56" fill="#fff">0.87970</text>
<text x="9.5" y="610.6" font-family="Liberation Sans, sans-serif" text-rendering="geometricPrecision" stroke="#000" stroke-width="0.2" font-size="10" letter-spacing="-0.56" fill="#000" textLength="147.5" lengthAdjust="spacing" word-spacing="1">MACD(12,26,9) 0.000939 0.000684</text>
<g clip-path="url(#cl)">
<rect x="4" y="651" width="3" height="65" fill="#00ff00"/>
<rect x="20" y="645" width="3" height="71" fill="#00ff00"/>
<rect x="36" y="643" width="3" height="73" fill="#00ff00"/>
<rect x="52" y="642" width="3" height="74" fill="#00ff00"/>
<rect x="68" y="636" width="3" height="80" fill="#00ff00"/>
<rect x="84" y="627" width="3" height="89" fill="#00ff00"/>
<rect x="100" y="618" width="3" height="98" fill="#00ff00"/>
<rect x="116" y="616" width="3" height="100" fill="#00ff00"/>
<rect x="132" y="623" width="3" height="93" fill="#00ff00"/>
<rect x="148" y="623" width="3" height="93" fill="#00ff00"/>
<rect x="164" y="617" width="3" height="99" fill="#00ff00"/>
<rect x="180" y="610" width="3" height="106" fill="#00ff00"/>
<rect x="196" y="606" width="3" height="110" fill="#00ff00"/>
<rect x="212" y="605" width="3" height="111" fill="#00ff00"/>
<rect x="228" y="607" width="3" height="109" fill="#00ff00"/>
<rect x="244" y="608" width="3" height="108" fill="#00ff00"/>
<rect x="260" y="608" width="3" height="108" fill="#00ff00"/>
<rect x="276" y="617" width="3" height="99" fill="#00ff00"/>
<rect x="292" y="631" width="3" height="85" fill="#00ff00"/>
<rect x="308" y="640" width="3" height="76" fill="#00ff00"/>
<rect x="324" y="651" width="3" height="65" fill="#00ff00"/>
<rect x="340" y="659" width="3" height="57" fill="#00ff00"/>
<rect x="356" y="659" width="3" height="57" fill="#00ff00"/>
<rect x="372" y="657" width="3" height="59" fill="#00ff00"/>
<rect x="388" y="676" width="3" height="40" fill="#00ff00"/>
<rect x="404" y="687" width="3" height="29" fill="#00ff00"/>
<rect x="420" y="691" width="3" height="25" fill="#00ff00"/>
<rect x="436" y="692" width="3" height="24" fill="#00ff00"/>
<rect x="452" y="697" width="3" height="19" fill="#00ff00"/>
<rect x="468" y="694" width="3" height="22" fill="#00ff00"/>
<rect x="484" y="697" width="3" height="19" fill="#00ff00"/>
<rect x="500" y="704" width="3" height="12" fill="#00ff00"/>
<rect x="516" y="710" width="3" height="6" fill="#00ff00"/>
<rect x="532" y="710" width="3" height="6" fill="#00ff00"/>
<rect x="548" y="709" width="3" height="7" fill="#00ff00"/>
<rect x="564" y="700" width="3" height="16" fill="#00ff00"/>
<rect x="580" y="698" width="3" height="18" fill="#00ff00"/>
<rect x="596" y="697" width="3" height="19" fill="#00ff00"/>
<rect x="612" y="697" width="3" height="19" fill="#00ff00"/>
<rect x="628" y="700" width="3" height="16" fill="#00ff00"/>
<rect x="644" y="706" width="3" height="10" fill="#00ff00"/>
<rect x="660" y="698" width="3" height="18" fill="#00ff00"/>
<rect x="676" y="694" width="3" height="22" fill="#00ff00"/>
<rect x="692" y="690" width="3" height="26" fill="#00ff00"/>
<rect x="708" y="688" width="3" height="28" fill="#00ff00"/>
<rect x="724" y="687" width="3" height="29" fill="#00ff00"/>
<rect x="740" y="696" width="3" height="20" fill="#00ff00"/>
<rect x="756" y="706" width="3" height="10" fill="#00ff00"/>
<rect x="772" y="712" width="3" height="4" fill="#00ff00"/>
<rect x="788" y="707" width="3" height="9" fill="#00ff00"/>
<rect x="804" y="703" width="3" height="13" fill="#00ff00"/>
<rect x="820" y="703" width="3" height="13" fill="#00ff00"/>
<rect x="836" y="701" width="3" height="15" fill="#00ff00"/>
<rect x="852" y="705" width="3" height="11" fill="#00ff00"/>
<rect x="868" y="704" width="3" height="12" fill="#00ff00"/>
<rect x="884" y="703" width="3" height="13" fill="#00ff00"/>
<rect x="900" y="701" width="3" height="15" fill="#00ff00"/>
<rect x="916" y="697" width="3" height="19" fill="#00ff00"/>
<rect x="932" y="699" width="3" height="17" fill="#00ff00"/>
<rect x="948" y="695" width="3" height="21" fill="#00ff00"/>
<rect x="964" y="693" width="3" height="23" fill="#00ff00"/>
<rect x="980" y="689" width="3" height="27" fill="#00ff00"/>
<rect x="996" y="687" width="3" height="29" fill="#00ff00"/>
<rect x="1012" y="690" width="3" height="26" fill="#00ff00"/>
<rect x="1028" y="691" width="3" height="25" fill="#00ff00"/>
<rect x="1044" y="694" width="3" height="22" fill="#00ff00"/>
<rect x="1060" y="695" width="3" height="21" fill="#00ff00"/>
<rect x="1076" y="693" width="3" height="23" fill="#00ff00"/>
<rect x="1092" y="689" width="3" height="27" fill="#00ff00"/>
<rect x="1108" y="688" width="3" height="28" fill="#00ff00"/>
<rect x="1124" y="688" width="3" height="28" fill="#00ff00"/>
<rect x="1140" y="683" width="3" height="33" fill="#00ff00"/>
<rect x="1156" y="683" width="3" height="33" fill="#00ff00"/>
<rect x="1172" y="679" width="3" height="37" fill="#00ff00"/>
<rect x="1188" y="677" width="3" height="39" fill="#00ff00"/>
<rect x="1204" y="674" width="3" height="42" fill="#00ff00"/>
<rect x="1220" y="675" width="3" height="41" fill="#00ff00"/>
<rect x="1236" y="684" width="3" height="32" fill="#00ff00"/>
<rect x="1252" y="686" width="3" height="30" fill="#00ff00"/>
<rect x="1268" y="690" width="3" height="26" fill="#00ff00"/>
<rect x="1284" y="693" width="3" height="23" fill="#00ff00"/>
<rect x="1300" y="697" width="3" height="19" fill="#00ff00"/>
<rect x="1316" y="695" width="3" height="21" fill="#00ff00"/>
<rect x="1332" y="691" width="3" height="25" fill="#00ff00"/>
<rect x="1348" y="684" width="3" height="32" fill="#00ff00"/>
<rect x="1364" y="679" width="3" height="37" fill="#00ff00"/>
<polyline fill="none" stroke="#ff0000" stroke-width="2" points="5.5,658 21.5,655.5 37.5,653 53.5,650 69.5,647 85.5,644 101.5,640 117.5,636.5 133.5,633.5 149.5,630.5 165.5,627.5 181.5,623.5 197.5,619.5 213.5,616.5 229.5,614.5 245.5,613.75 261.5,612.5 277.5,612 293.5,612.5 309.5,615.5 325.5,620 341.5,625.5 357.5,631 373.5,637 389.5,644.5 405.5,653 421.5,661.5 437.5,668.5 453.5,674.5 469.5,678.5 485.5,683 501.5,689 517.5,694 533.5,698 549.5,701.5 565.5,702 581.5,702 597.5,702.5 613.5,703 629.5,703 645.5,703 661.5,702.5 677.5,700.5 693.5,698.5 709.5,696.5 725.5,695.5 741.5,695.25 757.5,696.5 773.5,697 789.5,698 805.5,698.5 821.5,699.5 837.5,700.5 853.5,702.5 869.5,704 885.5,705 901.5,704.5 917.5,702.5 933.5,702 949.5,701.5 965.5,700.5 981.5,698.5 997.5,696.5 1013.5,695.5 1029.5,694.5 1045.5,693 1061.5,692.5 1077.5,692 1093.5,691 1109.5,690.5 1125.5,690 1141.5,690 1157.5,689.5 1173.5,688.5 1189.5,686.5 1205.5,684.5 1221.5,682.5 1237.5,681.5 1253.5,681 1269.5,681.5 1285.5,682 1301.5,684 1317.5,686 1333.5,687 1349.5,688.5 1365.5,689"/>
</g>
<text x="1648.5" y="609" font-family="Liberation Sans, sans-serif" text-rendering="geometricPrecision" stroke="#000" stroke-width="0.2" font-size="10" letter-spacing="-0.56" fill="#000">0.002958</text>
<g clip-path="url(#cz)"><text x="1648.5" y="719" font-family="Liberation Sans, sans-serif" text-rendering="geometricPrecision" stroke="#000" stroke-width="0.2" font-size="10" letter-spacing="-0.56" fill="#000">0.00</text></g>
<text x="1651.5" y="715" font-family="Liberation Sans, sans-serif" text-rendering="geometricPrecision" stroke="#000" stroke-width="0.2" font-size="10" letter-spacing="-0.56" fill="#000">0.000046</text>
<rect x="1645" y="717" width="1" height="1" fill="#000"/>
<text x="9.5" y="732.6" font-family="Liberation Sans, sans-serif" text-rendering="geometricPrecision" stroke="#000" stroke-width="0.2" font-size="10" letter-spacing="-0.56" fill="#000" textLength="67.3" lengthAdjust="spacing" word-spacing="1">RSI(14) 62.6260</text>
<line x1="6" y1="742.5" x2="1644" y2="742.5" stroke="#000" stroke-width="1" stroke-dasharray="3 3"/>
<line x1="6" y1="773.5" x2="1644" y2="773.5" stroke="#000" stroke-width="1" stroke-dasharray="3 3"/>
<line x1="6" y1="809.5" x2="1644" y2="809.5" stroke="#000" stroke-width="1" stroke-dasharray="3 3"/>
<g clip-path="url(#cl)">
<polyline fill="none" stroke="#1e90ff" stroke-width="2" points="5.5,769 21.5,764 37.5,764 53.5,764 69.5,761 85.5,758.5 101.5,757 117.5,760 133.5,767 149.5,763.5 165.5,759.5 181.5,758 197.5,758.5 213.5,759.5 229.5,760 245.5,759.5 261.5,759 277.5,766 293.5,771 309.5,770 325.5,772 341.5,772 357.5,765.5 373.5,764 389.5,780 405.5,776.5 421.5,773.5 437.5,772 453.5,772.5 469.5,768.5 485.5,773 501.5,775.5 517.5,775.5 533.5,772.5 549.5,771.5 565.5,766 581.5,769 597.5,769.5 613.5,769.5 629.5,773 645.5,775.5 661.5,767 677.5,767 693.5,767 709.5,767 725.5,768 741.5,777 757.5,780 773.5,777.5 789.5,768 805.5,768 821.5,770.5 837.5,769 853.5,775 869.5,771 885.5,770.5 901.5,769 917.5,767.5 933.5,772 949.5,767 965.5,768 981.5,766 997.5,767 1013.5,770.5 1029.5,770.5 1045.5,769.5 1061.5,770.5 1077.5,765.5 1093.5,765.5 1109.5,765.5 1125.5,765.5 1141.5,760.5 1157.5,767 1173.5,762.5 1189.5,762.5 1205.5,761.5 1221.5,766 1237.5,775.5 1253.5,769.5 1269.5,772 1285.5,772.5 1301.5,772.5 1317.5,767 1333.5,764 1349.5,761 1365.5,761"/>
</g>
<text x="1647.6" y="731" font-family="Liberation Sans, sans-serif" text-rendering="geometricPrecision" stroke="#000" stroke-width="0.2" font-size="10" letter-spacing="-0.56" fill="#000">100</text>
<text x="1647.6" y="746" font-family="Liberation Sans, sans-serif" text-rendering="geometricPrecision" stroke="#000" stroke-width="0.2" font-size="10" letter-spacing="-0.56" fill="#000">80</text>
<text x="1647.6" y="777" font-family="Liberation Sans, sans-serif" text-rendering="geometricPrecision" stroke="#000" stroke-width="0.2" font-size="10" letter-spacing="-0.56" fill="#000">50</text>
<text x="1647.6" y="813" font-family="Liberation Sans, sans-serif" text-rendering="geometricPrecision" stroke="#000" stroke-width="0.2" font-size="10" letter-spacing="-0.56" fill="#000">15</text>
<text x="1647.6" y="822" font-family="Liberation Sans, sans-serif" text-rendering="geometricPrecision" stroke="#000" stroke-width="0.2" font-size="10" letter-spacing="-0.56" fill="#000">0</text>
<rect x="5" y="826" width="1" height="3" fill="#000"/>
<text x="4.4" y="838" font-family="Liberation Sans, sans-serif" text-rendering="geometricPrecision" stroke="#000" stroke-width="0.2" font-size="10" letter-spacing="-0.5" word-spacing="1.1" fill="#000">31 Jul 2023</text>
<rect x="69" y="826" width="1" height="3" fill="#000"/>
<text x="68.4" y="838" font-family="Liberation Sans, sans-serif" text-rendering="geometricPrecision" stroke="#000" stroke-width="0.2" font-size="10" letter-spacing="-0.5" word-spacing="1.1" fill="#000">1 Aug 04:00</text>
<rect x="133" y="826" width="1" height="3" fill="#000"/>
<text x="132.4" y="838" font-family="Liberation Sans, sans-serif" text-rendering="geometricPrecision" stroke="#000" stroke-width="0.2" font-size="10" letter-spacing="-0.5" word-spacing="1.1" fill="#000">1 Aug 20:00</text>
<rect x="197" y="826" width="1" height="3" fill="#000"/>
<text x="196.4" y="838" font-family="Liberation Sans, sans-serif" text-rendering="geometricPrecision" stroke="#000" stroke-width="0.2" font-size="10" letter-spacing="-0.5" word-spacing="1.1" fill="#000">2 Aug 12:00</text>
<rect x="261" y="826" width="1" height="3" fill="#000"/>
<text x="260.4" y="838" font-family="Liberation Sans, sans-serif" text-rendering="geometricPrecision" stroke="#000" stroke-width="0.2" font-size="10" letter-spacing="-0.5" word-spacing="1.1" fill="#000">3 Aug 04:00</text>
<rect x="325" y="826" width="1" height="3" fill="#000"/>
<text x="324.4" y="838" font-family="Liberation Sans, sans-serif" text-rendering="geometricPrecision" stroke="#000" stroke-width="0.2" font-size="10" letter-spacing="-0.5" word-spacing="1.1" fill="#000">3 Aug 20:00</text>
<rect x="389" y="826" width="1" height="3" fill="#000"/>
<text x="388.4" y="838" font-family="Liberation Sans, sans-serif" text-rendering="geometricPrecision" stroke="#000" stroke-width="0.2" font-size="10" letter-spacing="-0.5" word-spacing="1.1" fill="#000">4 Aug 12:00</text>
<rect x="453" y="826" width="1" height="3" fill="#000"/>
<text x="452.4" y="838" font-family="Liberation Sans, sans-serif" text-rendering="geometricPrecision" stroke="#000" stroke-width="0.2" font-size="10" letter-spacing="-0.5" word-spacing="1.1" fill="#000">7 Aug 04:00</text>
<rect x="517" y="826" width="1" height="3" fill="#000"/>
<text x="516.4" y="838" font-family="Liberation Sans, sans-serif" text-rendering="geometricPrecision" stroke="#000" stroke-width="0.2" font-size="10" letter-spacing="-0.5" word-spacing="1.1" fill="#000">7 Aug 20:00</text>
<rect x="581" y="826" width="1" height="3" fill="#000"/>
<text x="580.4" y="838" font-family="Liberation Sans, sans-serif" text-rendering="geometricPrecision" stroke="#000" stroke-width="0.2" font-size="10" letter-spacing="-0.5" word-spacing="1.1" fill="#000">8 Aug 12:00</text>
<rect x="645" y="826" width="1" height="3" fill="#000"/>
<text x="644.4" y="838" font-family="Liberation Sans, sans-serif" text-rendering="geometricPrecision" stroke="#000" stroke-width="0.2" font-size="10" letter-spacing="-0.5" word-spacing="1.1" fill="#000">9 Aug 04:00</text>
<rect x="709" y="826" width="1" height="3" fill="#000"/>
<text x="708.4" y="838" font-family="Liberation Sans, sans-serif" text-rendering="geometricPrecision" stroke="#000" stroke-width="0.2" font-size="10" letter-spacing="-0.5" word-spacing="1.1" fill="#000">9 Aug 20:00</text>
<rect x="773" y="826" width="1" height="3" fill="#000"/>
<text x="772.4" y="838" font-family="Liberation Sans, sans-serif" text-rendering="geometricPrecision" stroke="#000" stroke-width="0.2" font-size="10" letter-spacing="-0.5" word-spacing="1.1" fill="#000">10 Aug 12:00</text>
<rect x="837" y="826" width="1" height="3" fill="#000"/>
<text x="836.4" y="838" font-family="Liberation Sans, sans-serif" text-rendering="geometricPrecision" stroke="#000" stroke-width="0.2" font-size="10" letter-spacing="-0.5" word-spacing="1.1" fill="#000">11 Aug 04:00</text>
<rect x="901" y="826" width="1" height="3" fill="#000"/>
<text x="900.4" y="838" font-family="Liberation Sans, sans-serif" text-rendering="geometricPrecision" stroke="#000" stroke-width="0.2" font-size="10" letter-spacing="-0.5" word-spacing="1.1" fill="#000">13 Aug 23:00</text>
<rect x="965" y="826" width="1" height="3" fill="#000"/>
<text x="964.4" y="838" font-family="Liberation Sans, sans-serif" text-rendering="geometricPrecision" stroke="#000" stroke-width="0.2" font-size="10" letter-spacing="-0.5" word-spacing="1.1" fill="#000">14 Aug 12:00</text>
<rect x="1029" y="826" width="1" height="3" fill="#000"/>
<text x="1028.4" y="838" font-family="Liberation Sans, sans-serif" text-rendering="geometricPrecision" stroke="#000" stroke-width="0.2" font-size="10" letter-spacing="-0.5" word-spacing="1.1" fill="#000">15 Aug 04:00</text>
<rect x="1093" y="826" width="1" height="3" fill="#000"/>
<text x="1092.4" y="838" font-family="Liberation Sans, sans-serif" text-rendering="geometricPrecision" stroke="#000" stroke-width="0.2" font-size="10" letter-spacing="-0.5" word-spacing="1.1" fill="#000">15 Aug 20:00</text>
<rect x="1157" y="826" width="1" height="3" fill="#000"/>
<text x="1156.4" y="838" font-family="Liberation Sans, sans-serif" text-rendering="geometricPrecision" stroke="#000" stroke-width="0.2" font-size="10" letter-spacing="-0.5" word-spacing="1.1" fill="#000">16 Aug 12:00</text>
<rect x="1221" y="826" width="1" height="3" fill="#000"/>
<text x="1220.4" y="838" font-family="Liberation Sans, sans-serif" text-rendering="geometricPrecision" stroke="#000" stroke-width="0.2" font-size="10" letter-spacing="-0.5" word-spacing="1.1" fill="#000">17 Aug 04:00</text>
<rect x="1285" y="826" width="1" height="3" fill="#000"/>
<text x="1284.4" y="838" font-family="Liberation Sans, sans-serif" text-rendering="geometricPrecision" stroke="#000" stroke-width="0.2" font-size="10" letter-spacing="-0.5" word-spacing="1.1" fill="#000">17 Aug 20:00</text>
<rect x="1349" y="826" width="1" height="3" fill="#000"/>
<text x="1348.4" y="838" font-family="Liberation Sans, sans-serif" text-rendering="geometricPrecision" stroke="#000" stroke-width="0.2" font-size="10" letter-spacing="-0.5" word-spacing="1.1" fill="#000">18 Aug 12:00</text>
</svg>
</body></html>
